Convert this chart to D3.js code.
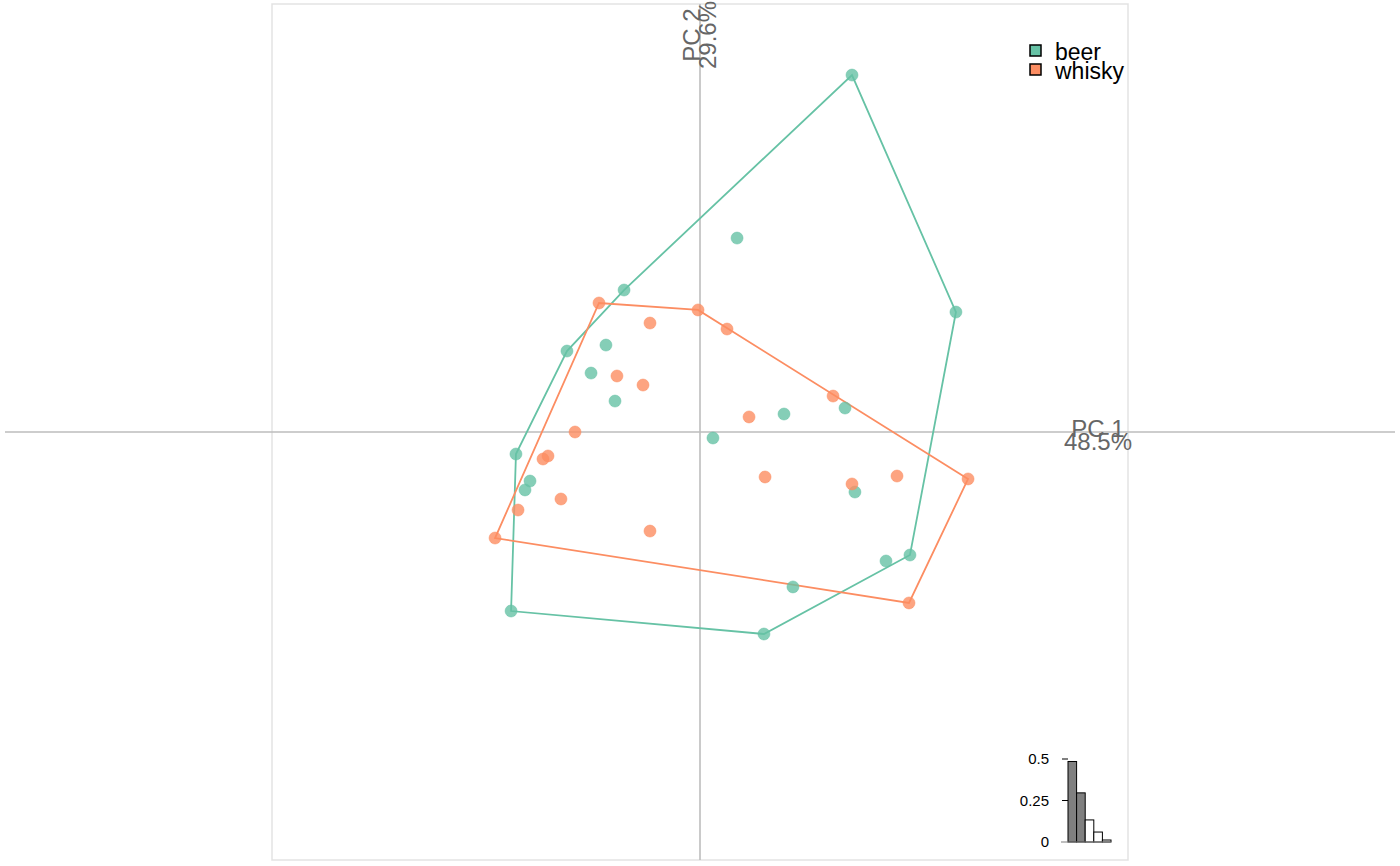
<!DOCTYPE html>
<html><head><meta charset="utf-8">
<script src="https://cdn.jsdelivr.net/npm/d3@7"></script>
<style>body{margin:0;background:#fff}svg{display:block}text{font-family:"Liberation Sans",Arial,sans-serif}</style>
</head><body>
<svg id="c" width="1400" height="866"></svg>
<script>
const groups = ["beer", "whisky"];
const colors = ["#66C2A5", "#FC8D62"];
const beerX = [1.243, 2.093, 0.303, -0.621, -1.088, -0.769, -0.891, -0.695, 0.687, 1.186, 0.106, -1.505, -1.390, -1.431, 1.267, 1.717, 1.521, 0.760, -1.545, 0.523];
const beerY = [2.919, 0.981, 1.586, 1.161, 0.662, 0.711, 0.482, 0.253, 0.147, 0.196, -0.049, -0.180, -0.401, -0.474, -0.491, -1.006, -1.055, -1.267, -1.464, -1.652];
const whiskyX = [-0.826, -0.016, 0.221, -0.409, -0.679, -0.466, 1.088, 0.401, -1.022, -1.243, -1.284, 0.532, 1.243, 1.611, 2.192, -1.137, -1.488, -0.409, -1.676, 1.709];
const whiskyY = [1.055, 0.998, 0.842, 0.891, 0.458, 0.384, 0.294, 0.123, 0.000, -0.196, -0.221, -0.368, -0.425, -0.360, -0.384, -0.548, -0.638, -0.810, -0.867, -1.398];
const axisNames = ["PC 1", "PC 2"];
const axisPct = ["48.5%", "29.6%"];
const eigen = [0.485, 0.296, 0.133, 0.060, 0.012];
const eigenTicks = [0, 0.25, 0.5];
const eigenTickLabels = ["0", "0.25", "0.5"];

const svg = d3.select("#c");
const x = d3.scaleLinear().domain([-3.5, 3.5]).range([272, 1128]);
const y = d3.scaleLinear().domain([-3.5, 3.5]).range([860, 4]);

// frame
svg.append("rect").attr("x", x(-3.5)).attr("y", y(3.5))
  .attr("width", x(3.5) - x(-3.5)).attr("height", y(-3.5) - y(3.5))
  .attr("fill", "none").attr("stroke", "#e3e3e3").attr("stroke-width", 1.5);

// axes lines
svg.append("line").attr("x1", 5).attr("x2", 1395).attr("y1", y(0)).attr("y2", y(0))
  .attr("stroke", "#bdbdbd").attr("stroke-width", 1.6);
svg.append("line").attr("x1", x(0)).attr("x2", x(0)).attr("y1", y(3.5)).attr("y2", y(-3.5))
  .attr("stroke", "#bdbdbd").attr("stroke-width", 1.6);

// axis labels
const lab = svg.append("g").attr("fill", "#666666").attr("font-size", 24).attr("text-anchor", "middle");
lab.append("text").attr("x", 1098).attr("y", 437).text(axisNames[0]);
lab.append("text").attr("x", 1098).attr("y", 450).text(axisPct[0]);
lab.append("text").attr("transform", "translate(700,35) rotate(-90)").text(axisNames[1]);
lab.append("text").attr("transform", "translate(716,35) rotate(-90)").text(axisPct[1]);

const data = [
  beerX.map((v, i) => [v, beerY[i]]),
  whiskyX.map((v, i) => [v, whiskyY[i]])
];

// hulls
data.forEach((pts, g) => {
  const hull = d3.polygonHull(pts.map(p => [x(p[0]), y(p[1])]));
  svg.append("path").attr("d", "M" + hull.join("L") + "Z")
    .attr("fill", "none").attr("stroke", colors[g]).attr("stroke-width", 1.8);
});

// points
data.forEach((pts, g) => {
  svg.append("g").selectAll("circle").data(pts).join("circle")
    .attr("cx", d => x(d[0])).attr("cy", d => y(d[1])).attr("r", 6)
    .attr("fill", colors[g]).attr("fill-opacity", 0.8)
    .attr("stroke", colors[g]).attr("stroke-opacity", 0.5).attr("stroke-width", 1);
});

// legend
const leg = svg.append("g");
groups.forEach((g, i) => {
  leg.append("rect").attr("x", 1030).attr("y", 45 + i * 19).attr("width", 11).attr("height", 11)
    .attr("fill", colors[i]).attr("stroke", "#000").attr("stroke-width", 1.5);
  leg.append("text").attr("x", 1055).attr("y", 60 + i * 19).attr("font-size", 23).attr("fill", "#000").text(g);
});

// eigenvalue inset
const ey = d3.scaleLinear().domain([0, 0.5]).range([842, 759]);
const ex = d3.scaleBand().domain(d3.range(eigen.length)).range([1068, 1111]).padding(0);
const ins = svg.append("g");
ins.selectAll("rect").data(eigen).join("rect")
  .attr("x", (d, i) => ex(i)).attr("width", ex.bandwidth())
  .attr("y", d => ey(d)).attr("height", d => ey(0) - ey(d))
  .attr("fill", (d, i) => i < 2 ? "#808080" : "#ffffff")
  .attr("stroke", "#000").attr("stroke-width", 1);
ins.append("line").attr("x1", 1061).attr("x2", 1111).attr("y1", ey(0)).attr("y2", ey(0))
  .attr("stroke", "#808080").attr("stroke-width", 1.2);
eigenTicks.forEach((t, i) => {
  if (t > 0) ins.append("line").attr("x1", 1062).attr("x2", 1068).attr("y1", ey(t)).attr("y2", ey(t))
    .attr("stroke", "#000").attr("stroke-width", 1);
  ins.append("text").attr("x", 1049).attr("y", ey(t) + 5).attr("text-anchor", "end")
    .attr("font-size", 15).attr("fill", "#000").text(eigenTickLabels[i]);
});
</script>
</body></html>
